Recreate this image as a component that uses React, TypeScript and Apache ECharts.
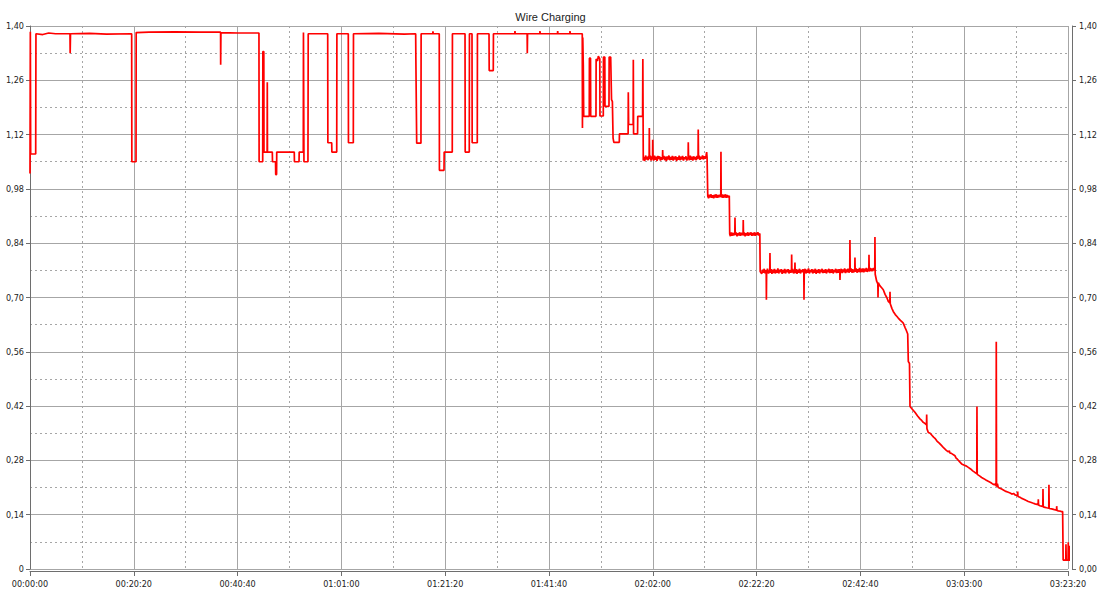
import React, { useEffect, useRef } from "react";
import * as echarts from "echarts";

const chartTitle = "Wire Charging";

// [seconds since start, value]
const startPulses: [number, number][] = [
  [0, 1.02], [4, 1.385], [8, 1.07], [67, 1.07], [70, 1.38], [150, 1.378], [220, 1.382], [300, 1.38],
  [470, 1.38], [472, 1.33], [476, 1.38], [700, 1.381], [900, 1.379], [1195, 1.38], [1197, 1.05],
  [1246, 1.05], [1248, 1.383], [1400, 1.384], [1700, 1.385], [2000, 1.384], [2240, 1.384], [2241, 1.3],
  [2244, 1.383], [2450, 1.382], [2691, 1.382], [2693, 1.05], [2735, 1.05], [2737, 1.334], [2748, 1.334],
  [2750, 1.075], [2787, 1.075], [2789, 1.255], [2791, 1.075], [2848, 1.075], [2850, 1.05], [2886, 1.05],
  [2888, 1.017], [2898, 1.017], [2900, 1.075], [3106, 1.075], [3108, 1.05], [3162, 1.05], [3164, 1.075],
  [3212, 1.075], [3214, 1.383], [3218, 1.383], [3220, 1.05], [3267, 1.05], [3270, 1.38], [3499, 1.38],
  [3501, 1.099], [3546, 1.099], [3548, 1.075], [3605, 1.075], [3607, 1.38], [3741, 1.38], [3743, 1.099],
  [3800, 1.099], [3802, 1.38], [4100, 1.381], [4400, 1.379], [4533, 1.38], [4535, 1.32], [4543, 1.32],
  [4545, 1.098], [4595, 1.098], [4597, 1.38], [4734, 1.38], [4736, 1.386], [4740, 1.38], [4810, 1.38],
  [4812, 1.028], [4866, 1.028], [4868, 1.075], [4963, 1.075], [4965, 1.38], [5113, 1.38], [5115, 1.075],
  [5163, 1.075], [5165, 1.38], [5195, 1.38], [5197, 1.099], [5257, 1.099], [5259, 1.38], [5395, 1.38],
  [5397, 1.285], [5445, 1.285], [5447, 1.38], [5698, 1.38], [5700, 1.387], [5703, 1.38], [5843, 1.38],
  [5845, 1.33], [5848, 1.38], [5992, 1.38], [5994, 1.387], [5997, 1.38], [6200, 1.38], [6202, 1.387],
  [6205, 1.38], [6345, 1.38], [6347, 1.387], [6350, 1.38], [6491, 1.38],
];

const unstablePhase: [number, number][] = [
  [6493, 1.137], [6497, 1.37], [6503, 1.3], [6508, 1.167], [6573, 1.167], [6575, 1.317], [6588, 1.317],
  [6590, 1.167], [6652, 1.167], [6654, 1.315], [6670, 1.31], [6680, 1.322], [6697, 1.315], [6699, 1.168],
  [6738, 1.168], [6740, 1.32], [6756, 1.32], [6758, 1.193], [6805, 1.193], [6807, 1.32], [6825, 1.32],
  [6835, 1.21], [6845, 1.205], [6853, 1.111], [6862, 1.1], [6926, 1.1], [6928, 1.122], [7030, 1.122],
  [7032, 1.229], [7036, 1.146], [7089, 1.146], [7091, 1.313], [7094, 1.122], [7141, 1.122], [7143, 1.167],
  [7200, 1.167], [7203, 1.315], [7208, 1.053],
];

const plateauHigh: [number, number][] = [
  [7215, 1.062], [7225, 1.052], [7235, 1.066], [7245, 1.056], [7255, 1.063], [7265, 1.054], [7272, 1.065],
  [7277, 1.058], [7279, 1.137], [7282, 1.057], [7290, 1.066], [7300, 1.053], [7310, 1.064], [7317, 1.056],
  [7319, 1.107], [7322, 1.06], [7330, 1.053], [7340, 1.066], [7350, 1.055], [7360, 1.063], [7370, 1.052],
  [7380, 1.065], [7390, 1.057], [7400, 1.064], [7410, 1.053], [7420, 1.062], [7428, 1.055], [7434, 1.06],
  [7436, 1.08], [7439, 1.057], [7450, 1.065], [7460, 1.054], [7470, 1.063], [7480, 1.052], [7490, 1.064],
  [7500, 1.056], [7510, 1.066], [7520, 1.054], [7530, 1.062], [7540, 1.055], [7550, 1.065], [7560, 1.053],
  [7570, 1.063], [7580, 1.056], [7590, 1.064], [7600, 1.052], [7610, 1.062], [7620, 1.055], [7630, 1.066],
  [7640, 1.054], [7650, 1.063], [7660, 1.056], [7670, 1.065], [7680, 1.053], [7690, 1.062], [7700, 1.057],
  [7710, 1.064], [7720, 1.053], [7730, 1.061], [7735, 1.058], [7737, 1.1], [7740, 1.06], [7750, 1.054],
  [7760, 1.066], [7770, 1.055], [7780, 1.063], [7790, 1.053], [7800, 1.064], [7810, 1.056], [7820, 1.062],
  [7830, 1.054], [7840, 1.065], [7850, 1.057], [7852, 1.061], [7854, 1.133], [7857, 1.06], [7865, 1.066],
  [7875, 1.055], [7885, 1.063], [7895, 1.057], [7905, 1.066], [7915, 1.056], [7925, 1.064], [7935, 1.058],
  [7945, 1.065], [7953, 1.075], [7958, 1.06], [7966, 0.961],
];

const plateauMiddle: [number, number][] = [
  [7975, 0.956], [7985, 0.965], [7995, 0.958], [8005, 0.966], [8015, 0.957], [8025, 0.964], [8035, 0.956],
  [8045, 0.965], [8055, 0.958], [8065, 0.966], [8075, 0.957], [8085, 0.964], [8095, 0.958], [8105, 0.965],
  [8119, 0.96], [8121, 1.076], [8124, 0.958], [8135, 0.966], [8145, 0.957], [8155, 0.965], [8165, 0.958],
  [8175, 0.966], [8185, 0.957], [8195, 0.964], [8205, 0.959], [8219, 0.962], [8224, 0.864], [8232, 0.858],
  [8240, 0.868], [8250, 0.859], [8260, 0.867], [8270, 0.86], [8284, 0.866], [8286, 0.906], [8289, 0.861],
  [8300, 0.868], [8310, 0.858], [8320, 0.866], [8330, 0.86], [8340, 0.868], [8350, 0.859], [8360, 0.867],
  [8370, 0.861], [8381, 0.865], [8383, 0.9], [8386, 0.86], [8395, 0.868], [8405, 0.858], [8415, 0.866],
  [8425, 0.86], [8435, 0.868], [8445, 0.859], [8455, 0.867], [8465, 0.861], [8475, 0.868], [8485, 0.859],
  [8495, 0.866], [8505, 0.86], [8515, 0.868], [8525, 0.859], [8535, 0.867], [8545, 0.861], [8555, 0.868],
  [8565, 0.86], [8578, 0.865], [8582, 0.767],
];

const plateauLow: [number, number][] = [
  [8600, 0.761], [8610, 0.772], [8620, 0.764], [8630, 0.774], [8640, 0.762], [8653, 0.77], [8655, 0.694],
  [8658, 0.765], [8668, 0.774], [8680, 0.762], [8695, 0.771], [8697, 0.815], [8700, 0.764], [8710, 0.773],
  [8720, 0.761], [8730, 0.772], [8740, 0.763], [8750, 0.774], [8760, 0.762], [8770, 0.771], [8780, 0.764],
  [8790, 0.775], [8800, 0.762], [8810, 0.772], [8820, 0.765], [8830, 0.773], [8840, 0.761], [8850, 0.771],
  [8860, 0.763], [8870, 0.774], [8880, 0.762], [8890, 0.772], [8900, 0.765], [8910, 0.773], [8920, 0.762],
  [8930, 0.771], [8940, 0.764], [8950, 0.769], [8952, 0.811], [8955, 0.764], [8965, 0.774], [8975, 0.762],
  [8989, 0.77], [8991, 0.79], [8994, 0.763], [9005, 0.773], [9015, 0.761], [9025, 0.772], [9035, 0.764],
  [9045, 0.774], [9055, 0.762], [9065, 0.771], [9075, 0.765], [9085, 0.773], [9095, 0.767], [9097, 0.694],
  [9100, 0.766], [9110, 0.774], [9120, 0.762], [9130, 0.772], [9140, 0.764], [9150, 0.775], [9160, 0.762],
  [9170, 0.771], [9180, 0.765], [9190, 0.773], [9200, 0.762], [9210, 0.772], [9220, 0.764], [9230, 0.774],
  [9240, 0.761], [9250, 0.771], [9260, 0.764], [9270, 0.773], [9280, 0.762], [9290, 0.772], [9300, 0.765],
  [9310, 0.774], [9320, 0.763], [9330, 0.771], [9340, 0.764], [9350, 0.773], [9360, 0.762], [9370, 0.772],
  [9380, 0.765], [9390, 0.774], [9400, 0.763], [9410, 0.772], [9420, 0.764], [9430, 0.773], [9440, 0.762],
  [9450, 0.771], [9460, 0.765], [9470, 0.774], [9480, 0.763], [9490, 0.772], [9500, 0.764], [9510, 0.773],
  [9518, 0.766], [9520, 0.745], [9523, 0.766], [9535, 0.774], [9545, 0.763], [9555, 0.772], [9565, 0.765],
  [9575, 0.775], [9585, 0.763], [9595, 0.772], [9605, 0.765], [9615, 0.774], [9625, 0.764], [9635, 0.77],
  [9637, 0.848], [9640, 0.766], [9650, 0.775], [9660, 0.764], [9670, 0.773], [9680, 0.765], [9694, 0.771],
  [9696, 0.803], [9699, 0.766], [9710, 0.775], [9720, 0.764], [9730, 0.773], [9740, 0.766], [9750, 0.776],
  [9760, 0.765], [9770, 0.774], [9780, 0.766], [9790, 0.775], [9800, 0.765], [9810, 0.774], [9820, 0.767],
  [9830, 0.776], [9840, 0.766], [9850, 0.774], [9859, 0.768], [9861, 0.81], [9864, 0.767], [9875, 0.776],
  [9885, 0.768], [9895, 0.775], [9905, 0.768], [9915, 0.776], [9929, 0.77], [9931, 0.856], [9934, 0.76],
];

const declinePhase: [number, number][] = [
  [9951, 0.742], [9965, 0.735], [9967, 0.7], [9970, 0.738], [9990, 0.73], [10010, 0.725], [10029, 0.72],
  [10050, 0.708], [10070, 0.7], [10088, 0.69], [10106, 0.686], [10108, 0.715], [10111, 0.684], [10130, 0.672],
  [10146, 0.664], [10170, 0.656], [10190, 0.651], [10205, 0.647], [10230, 0.641], [10250, 0.637],
  [10264, 0.634], [10284, 0.623], [10300, 0.615], [10316, 0.606], [10323, 0.535], [10337, 0.53],
  [10343, 0.419], [10370, 0.412], [10401, 0.404], [10430, 0.395], [10460, 0.387], [10480, 0.383],
  [10499, 0.378], [10520, 0.375], [10537, 0.372], [10539, 0.398], [10542, 0.362], [10558, 0.352],
  [10580, 0.35], [10600, 0.345], [10620, 0.34], [10636, 0.337], [10660, 0.33], [10690, 0.324],
  [10715, 0.318], [10740, 0.312], [10770, 0.306], [10793, 0.302], [10805, 0.305], [10812, 0.299],
  [10830, 0.298], [10850, 0.295], [10871, 0.292], [10885, 0.286], [10900, 0.283], [10925, 0.277],
  [10950, 0.271], [10975, 0.268], [11000, 0.266], [11028, 0.262], [11055, 0.258], [11080, 0.253],
  [11106, 0.249], [11128, 0.246], [11130, 0.419], [11133, 0.244], [11160, 0.24], [11185, 0.236],
  [11210, 0.233], [11240, 0.229], [11263, 0.226], [11290, 0.223], [11310, 0.22], [11334, 0.217],
  [11350, 0.22], [11355, 0.214], [11357, 0.586], [11360, 0.212], [11370, 0.22], [11380, 0.21],
  [11400, 0.208], [11420, 0.206], [11445, 0.203], [11470, 0.2], [11498, 0.198], [11520, 0.196],
  [11545, 0.193], [11560, 0.195], [11577, 0.191], [11607, 0.189], [11609, 0.2], [11612, 0.187],
  [11635, 0.185], [11656, 0.182], [11680, 0.18], [11705, 0.177], [11733, 0.174], [11760, 0.172],
  [11785, 0.17], [11812, 0.168], [11849, 0.166], [11851, 0.18], [11854, 0.165], [11870, 0.163],
  [11890, 0.162], [11904, 0.161], [11906, 0.206], [11909, 0.16], [11930, 0.159], [11949, 0.158],
  [11974, 0.157], [11976, 0.217], [11979, 0.156], [12008, 0.155], [12040, 0.153], [12065, 0.152],
  [12067, 0.162], [12070, 0.151], [12086, 0.15], [12110, 0.149], [12125, 0.148], [12137, 0.148],
];

const tailPhase: [number, number][] = [
  [12143, 0.023], [12174, 0.023], [12176, 0.064], [12179, 0.023], [12201, 0.023], [12203, 0.069],
  [12206, 0.023], [12221, 0.023], [12223, 0.06], [12226, 0.023], [12307, 0.023], [12309, 0.069],
  [12312, 0.023], [12339, 0.023], [12341, 0.077], [12344, 0.023], [12370, 0.023], [12372, 0.086],
  [12375, 0.023], [12386, 0.023], [12388, 0.087], [12391, 0.023], [12400, 0.023],
];

const xMin = 0;
const xMax = 12200;
const xStep = 1220;
const yMin = 0;
const yMax = 1.4;
const yStep = 0.14;

const FONT = "'Liberation Sans Narrow', 'DejaVu Sans Condensed', 'Liberation Sans', sans-serif";

function formatTime(sec: number): string {
  const s = Math.round(sec);
  const h = Math.floor(s / 3600);
  const m = Math.floor((s % 3600) / 60);
  const r = s % 60;
  const p = (n: number) => (n < 10 ? "0" + n : "" + n);
  return `${p(h)}:${p(m)}:${p(r)}`;
}

function formatComma(v: number): string {
  return (Math.round(v * 100) / 100).toFixed(2).replace(".", ",");
}

export default function App() {
  const ref = useRef<HTMLDivElement>(null);
  useEffect(() => {
    if (!ref.current) return;
    const chart = echarts.init(ref.current, undefined, { renderer: "svg" });
    const data = [
      ...startPulses,
      ...unstablePhase,
      ...plateauHigh,
      ...plateauMiddle,
      ...plateauLow,
      ...declinePhase,
      ...tailPhase,
    ];
    const gridColor = "#a6a6a6";
    const axisColor = "#6e6e6e";
    const textColor = "#222";
    chart.setOption({
      animation: false,
      backgroundColor: "#ffffff",
      title: {
        text: chartTitle,
        left: "center",
        top: 6,
        textStyle: { fontSize: 11, fontWeight: "normal", color: textColor, fontFamily: "'Liberation Sans', sans-serif" },
      },
      grid: { left: 30, right: 33, top: 26, bottom: 31, containLabel: false },
      xAxis: {
        type: "value",
        min: xMin,
        max: xMax,
        interval: xStep,
        offset: 2,
        axisLine: { show: true, onZero: false, lineStyle: { color: axisColor, width: 1 } },
        axisTick: { show: true, length: 5, lineStyle: { color: axisColor } },
        axisLabel: { formatter: formatTime, fontSize: 9, margin: 8, color: textColor, fontFamily: FONT },
        splitLine: { show: true, lineStyle: { color: gridColor, width: 1 } },
        minorTick: { show: false, splitNumber: 2 },
        minorSplitLine: { show: true, lineStyle: { color: gridColor, width: 1, type: [2, 3] } },
      },
      yAxis: [
        {
          type: "value",
          min: yMin,
          max: yMax,
          interval: yStep,
          position: "left",
          axisLine: { show: true, lineStyle: { color: axisColor, width: 1 } },
          axisTick: { show: true, length: 4, lineStyle: { color: axisColor } },
          axisLabel: {
            formatter: (v: number) => (v === 0 ? "0" : formatComma(v)),
            fontSize: 9,
            margin: 6,
            color: textColor,
            fontFamily: FONT,
          },
          splitLine: { show: true, lineStyle: { color: gridColor, width: 1 } },
          minorTick: { show: false, splitNumber: 2 },
          minorSplitLine: { show: true, lineStyle: { color: gridColor, width: 1, type: [2, 3] } },
        },
        {
          type: "value",
          min: yMin,
          max: yMax,
          interval: yStep,
          position: "right",
          offset: 4,
          axisLine: { show: true, lineStyle: { color: axisColor, width: 1 } },
          axisTick: { show: true, length: 4, lineStyle: { color: axisColor } },
          axisLabel: { formatter: formatComma, fontSize: 9, margin: 7, color: textColor, fontFamily: FONT },
          splitLine: { show: false },
        },
      ],
      series: [
        {
          type: "line",
          data,
          yAxisIndex: 0,
          showSymbol: false,
          symbol: "none",
          clip: false,
          lineStyle: { color: "#ff0000", width: 1.7 },
          z: 5,
        },
      ],
    });
    return () => chart.dispose();
  }, []);
  return <div ref={ref} style={{ position: "fixed", left: 0, top: 0, width: 1101, height: 600 }} />;
}
